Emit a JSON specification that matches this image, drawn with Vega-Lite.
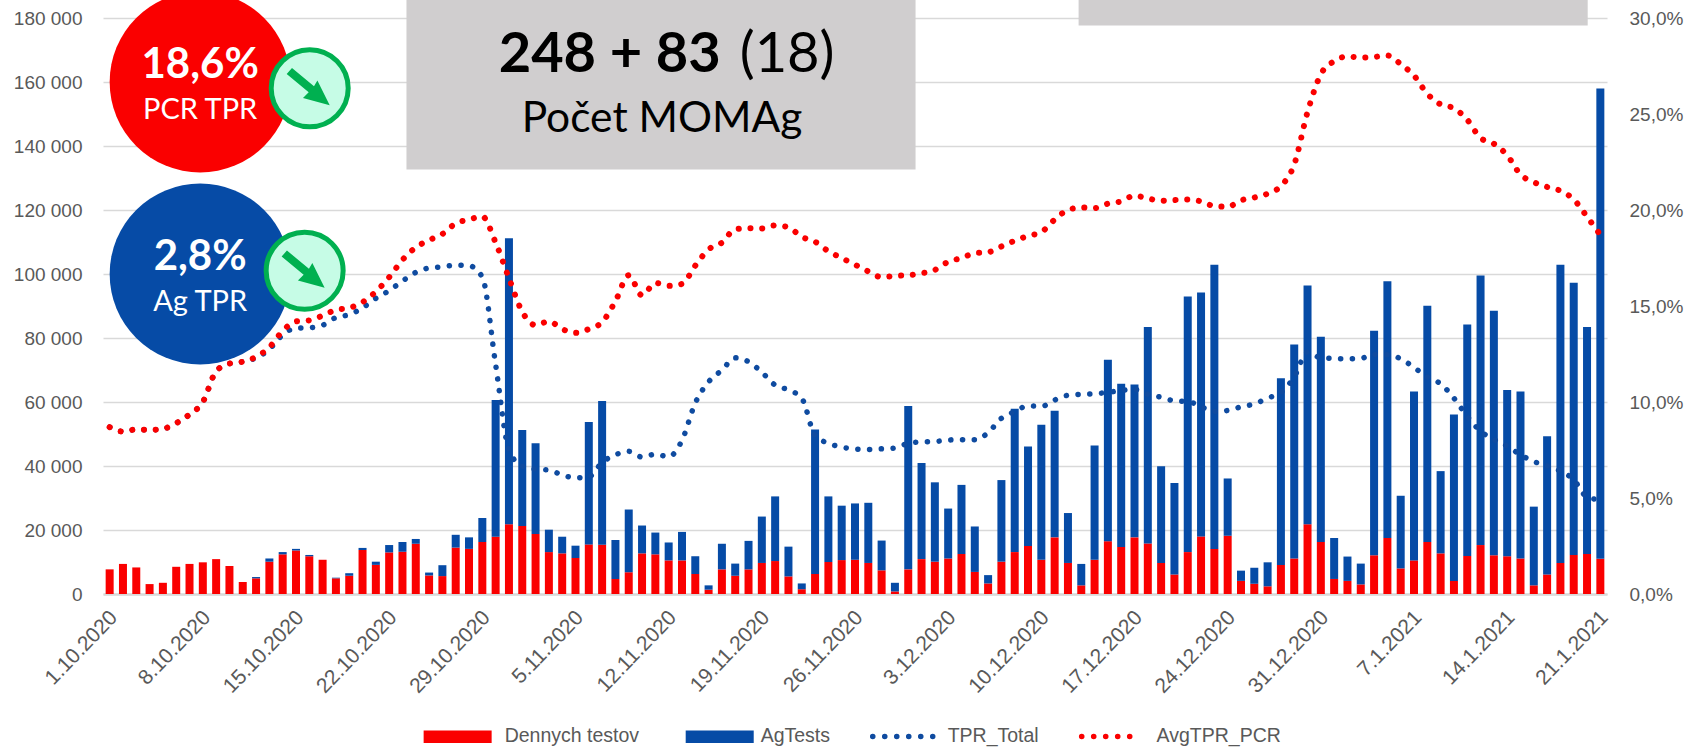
{
"$schema":"https://vega.github.io/schema/vega-lite/v6.json",
"width":1504,"height":576,
"autosize":{"type":"none"},
"padding":{"left":103,"top":18,"right":81,"bottom":155},
"background":"#ffffff",
"config":{"view":{"stroke":null},"font":"Liberation Sans"},
"data":{"values":[
{"date":"2020-10-01","Dennych testov":7700,"AgTests":0,"TPR_Total":8.69,"AvgTPR_PCR":8.69},
{"date":"2020-10-02","Dennych testov":9400,"AgTests":0,"TPR_Total":8.46,"AvgTPR_PCR":8.46},
{"date":"2020-10-03","Dennych testov":8300,"AgTests":0,"TPR_Total":8.57,"AvgTPR_PCR":8.57},
{"date":"2020-10-04","Dennych testov":3100,"AgTests":0,"TPR_Total":8.55,"AvgTPR_PCR":8.55},
{"date":"2020-10-05","Dennych testov":3500,"AgTests":0,"TPR_Total":8.6,"AvgTPR_PCR":8.6},
{"date":"2020-10-06","Dennych testov":8500,"AgTests":0,"TPR_Total":8.9,"AvgTPR_PCR":8.9},
{"date":"2020-10-07","Dennych testov":9400,"AgTests":0,"TPR_Total":9.35,"AvgTPR_PCR":9.35},
{"date":"2020-10-08","Dennych testov":9900,"AgTests":0,"TPR_Total":10.0,"AvgTPR_PCR":10.0},
{"date":"2020-10-09","Dennych testov":10900,"AgTests":0,"TPR_Total":11.6,"AvgTPR_PCR":11.6},
{"date":"2020-10-10","Dennych testov":8750,"AgTests":0,"TPR_Total":12.0,"AvgTPR_PCR":12.0},
{"date":"2020-10-11","Dennych testov":3750,"AgTests":0,"TPR_Total":12.1,"AvgTPR_PCR":12.1},
{"date":"2020-10-12","Dennych testov":4900,"AgTests":400,"TPR_Total":12.3,"AvgTPR_PCR":12.35},
{"date":"2020-10-13","Dennych testov":10100,"AgTests":1000,"TPR_Total":12.75,"AvgTPR_PCR":12.85},
{"date":"2020-10-14","Dennych testov":12400,"AgTests":700,"TPR_Total":13.5,"AvgTPR_PCR":13.7},
{"date":"2020-10-15","Dennych testov":13600,"AgTests":500,"TPR_Total":13.85,"AvgTPR_PCR":14.2},
{"date":"2020-10-16","Dennych testov":11800,"AgTests":400,"TPR_Total":13.87,"AvgTPR_PCR":14.25},
{"date":"2020-10-17","Dennych testov":10700,"AgTests":0,"TPR_Total":14.0,"AvgTPR_PCR":14.5},
{"date":"2020-10-18","Dennych testov":4900,"AgTests":200,"TPR_Total":14.4,"AvgTPR_PCR":14.8},
{"date":"2020-10-19","Dennych testov":5700,"AgTests":800,"TPR_Total":14.55,"AvgTPR_PCR":14.9},
{"date":"2020-10-20","Dennych testov":13750,"AgTests":650,"TPR_Total":14.9,"AvgTPR_PCR":15.2},
{"date":"2020-10-21","Dennych testov":9100,"AgTests":1000,"TPR_Total":15.4,"AvgTPR_PCR":15.75},
{"date":"2020-10-22","Dennych testov":13000,"AgTests":2300,"TPR_Total":15.8,"AvgTPR_PCR":16.5},
{"date":"2020-10-23","Dennych testov":13200,"AgTests":3050,"TPR_Total":16.3,"AvgTPR_PCR":17.4},
{"date":"2020-10-24","Dennych testov":15700,"AgTests":1500,"TPR_Total":16.75,"AvgTPR_PCR":18.05},
{"date":"2020-10-25","Dennych testov":5800,"AgTests":900,"TPR_Total":16.98,"AvgTPR_PCR":18.43},
{"date":"2020-10-26","Dennych testov":5600,"AgTests":3400,"TPR_Total":17.04,"AvgTPR_PCR":18.75},
{"date":"2020-10-27","Dennych testov":14500,"AgTests":4000,"TPR_Total":17.13,"AvgTPR_PCR":19.3},
{"date":"2020-10-28","Dennych testov":14100,"AgTests":3600,"TPR_Total":17.1,"AvgTPR_PCR":19.5},
{"date":"2020-10-29","Dennych testov":16250,"AgTests":7500,"TPR_Total":16.5,"AvgTPR_PCR":19.66},
{"date":"2020-10-30","Dennych testov":17900,"AgTests":42700,"TPR_Total":11.95,"AvgTPR_PCR":18.3},
{"date":"2020-10-31","Dennych testov":21800,"AgTests":89400,"TPR_Total":7.5,"AvgTPR_PCR":16.45},
{"date":"2020-11-01","Dennych testov":21250,"AgTests":30000,"TPR_Total":6.65,"AvgTPR_PCR":14.7},
{"date":"2020-11-02","Dennych testov":18750,"AgTests":28350,"TPR_Total":6.5,"AvgTPR_PCR":14.0},
{"date":"2020-11-03","Dennych testov":13100,"AgTests":7000,"TPR_Total":6.45,"AvgTPR_PCR":14.2},
{"date":"2020-11-04","Dennych testov":12700,"AgTests":5200,"TPR_Total":6.2,"AvgTPR_PCR":13.8},
{"date":"2020-11-05","Dennych testov":11250,"AgTests":3850,"TPR_Total":6.05,"AvgTPR_PCR":13.6},
{"date":"2020-11-06","Dennych testov":15500,"AgTests":38250,"TPR_Total":6.1,"AvgTPR_PCR":13.8},
{"date":"2020-11-07","Dennych testov":15400,"AgTests":44900,"TPR_Total":6.85,"AvgTPR_PCR":14.16},
{"date":"2020-11-08","Dennych testov":4700,"AgTests":12200,"TPR_Total":7.25,"AvgTPR_PCR":15.25},
{"date":"2020-11-09","Dennych testov":6800,"AgTests":19600,"TPR_Total":7.43,"AvgTPR_PCR":16.6},
{"date":"2020-11-10","Dennych testov":12700,"AgTests":8700,"TPR_Total":7.13,"AvgTPR_PCR":15.55},
{"date":"2020-11-11","Dennych testov":12400,"AgTests":6800,"TPR_Total":7.28,"AvgTPR_PCR":16.2},
{"date":"2020-11-12","Dennych testov":10500,"AgTests":5600,"TPR_Total":7.15,"AvgTPR_PCR":16.05},
{"date":"2020-11-13","Dennych testov":10500,"AgTests":8900,"TPR_Total":8.0,"AvgTPR_PCR":16.15},
{"date":"2020-11-14","Dennych testov":6250,"AgTests":5550,"TPR_Total":9.95,"AvgTPR_PCR":17.1},
{"date":"2020-11-15","Dennych testov":1350,"AgTests":1350,"TPR_Total":11.05,"AvgTPR_PCR":17.95},
{"date":"2020-11-16","Dennych testov":7700,"AgTests":8000,"TPR_Total":11.66,"AvgTPR_PCR":18.3},
{"date":"2020-11-17","Dennych testov":5700,"AgTests":3800,"TPR_Total":12.3,"AvgTPR_PCR":19.0},
{"date":"2020-11-18","Dennych testov":7700,"AgTests":8900,"TPR_Total":12.1,"AvgTPR_PCR":19.05},
{"date":"2020-11-19","Dennych testov":9700,"AgTests":14500,"TPR_Total":11.55,"AvgTPR_PCR":19.04},
{"date":"2020-11-20","Dennych testov":10300,"AgTests":20200,"TPR_Total":10.88,"AvgTPR_PCR":19.2},
{"date":"2020-11-21","Dennych testov":5500,"AgTests":9300,"TPR_Total":10.63,"AvgTPR_PCR":19.1},
{"date":"2020-11-22","Dennych testov":1500,"AgTests":1800,"TPR_Total":10.2,"AvgTPR_PCR":18.6},
{"date":"2020-11-23","Dennych testov":6250,"AgTests":45150,"TPR_Total":8.25,"AvgTPR_PCR":18.35},
{"date":"2020-11-24","Dennych testov":10000,"AgTests":20500,"TPR_Total":7.85,"AvgTPR_PCR":17.85},
{"date":"2020-11-25","Dennych testov":10600,"AgTests":17000,"TPR_Total":7.65,"AvgTPR_PCR":17.5},
{"date":"2020-11-26","Dennych testov":10700,"AgTests":17600,"TPR_Total":7.55,"AvgTPR_PCR":17.15},
{"date":"2020-11-27","Dennych testov":9700,"AgTests":18800,"TPR_Total":7.53,"AvgTPR_PCR":16.8},
{"date":"2020-11-28","Dennych testov":7400,"AgTests":9300,"TPR_Total":7.56,"AvgTPR_PCR":16.5},
{"date":"2020-11-29","Dennych testov":800,"AgTests":2700,"TPR_Total":7.6,"AvgTPR_PCR":16.57},
{"date":"2020-11-30","Dennych testov":7700,"AgTests":51050,"TPR_Total":7.85,"AvgTPR_PCR":16.6},
{"date":"2020-12-01","Dennych testov":10900,"AgTests":30000,"TPR_Total":7.92,"AvgTPR_PCR":16.7},
{"date":"2020-12-02","Dennych testov":10100,"AgTests":24800,"TPR_Total":7.94,"AvgTPR_PCR":16.88},
{"date":"2020-12-03","Dennych testov":11100,"AgTests":15600,"TPR_Total":8.02,"AvgTPR_PCR":17.3},
{"date":"2020-12-04","Dennych testov":12500,"AgTests":21600,"TPR_Total":8.04,"AvgTPR_PCR":17.5},
{"date":"2020-12-05","Dennych testov":6900,"AgTests":14200,"TPR_Total":8.03,"AvgTPR_PCR":17.75},
{"date":"2020-12-06","Dennych testov":3300,"AgTests":2600,"TPR_Total":8.4,"AvgTPR_PCR":17.8},
{"date":"2020-12-07","Dennych testov":10100,"AgTests":25500,"TPR_Total":9.15,"AvgTPR_PCR":18.1},
{"date":"2020-12-08","Dennych testov":13100,"AgTests":44800,"TPR_Total":9.5,"AvgTPR_PCR":18.4},
{"date":"2020-12-09","Dennych testov":15000,"AgTests":31100,"TPR_Total":9.8,"AvgTPR_PCR":18.65},
{"date":"2020-12-10","Dennych testov":10700,"AgTests":42200,"TPR_Total":9.77,"AvgTPR_PCR":18.85},
{"date":"2020-12-11","Dennych testov":17700,"AgTests":39600,"TPR_Total":10.1,"AvgTPR_PCR":19.5},
{"date":"2020-12-12","Dennych testov":9700,"AgTests":15600,"TPR_Total":10.35,"AvgTPR_PCR":20.0},
{"date":"2020-12-13","Dennych testov":2700,"AgTests":6700,"TPR_Total":10.4,"AvgTPR_PCR":20.13},
{"date":"2020-12-14","Dennych testov":10700,"AgTests":35700,"TPR_Total":10.43,"AvgTPR_PCR":20.1},
{"date":"2020-12-15","Dennych testov":16500,"AgTests":56700,"TPR_Total":10.5,"AvgTPR_PCR":20.33},
{"date":"2020-12-16","Dennych testov":14700,"AgTests":51000,"TPR_Total":10.6,"AvgTPR_PCR":20.45},
{"date":"2020-12-17","Dennych testov":17700,"AgTests":47800,"TPR_Total":10.65,"AvgTPR_PCR":20.75},
{"date":"2020-12-18","Dennych testov":15800,"AgTests":67600,"TPR_Total":10.4,"AvgTPR_PCR":20.6},
{"date":"2020-12-19","Dennych testov":9700,"AgTests":30200,"TPR_Total":10.25,"AvgTPR_PCR":20.48},
{"date":"2020-12-20","Dennych testov":6100,"AgTests":28600,"TPR_Total":10.06,"AvgTPR_PCR":20.52},
{"date":"2020-12-21","Dennych testov":13100,"AgTests":79900,"TPR_Total":10.03,"AvgTPR_PCR":20.55},
{"date":"2020-12-22","Dennych testov":18000,"AgTests":76200,"TPR_Total":9.75,"AvgTPR_PCR":20.45},
{"date":"2020-12-23","Dennych testov":14100,"AgTests":88800,"TPR_Total":9.5,"AvgTPR_PCR":20.2},
{"date":"2020-12-24","Dennych testov":18200,"AgTests":17900,"TPR_Total":9.56,"AvgTPR_PCR":20.17},
{"date":"2020-12-25","Dennych testov":4100,"AgTests":3200,"TPR_Total":9.75,"AvgTPR_PCR":20.5},
{"date":"2020-12-26","Dennych testov":3200,"AgTests":5000,"TPR_Total":9.9,"AvgTPR_PCR":20.65},
{"date":"2020-12-27","Dennych testov":2400,"AgTests":7500,"TPR_Total":10.2,"AvgTPR_PCR":20.85},
{"date":"2020-12-28","Dennych testov":9100,"AgTests":58300,"TPR_Total":10.5,"AvgTPR_PCR":21.25},
{"date":"2020-12-29","Dennych testov":11100,"AgTests":66900,"TPR_Total":11.3,"AvgTPR_PCR":22.37},
{"date":"2020-12-30","Dennych testov":21800,"AgTests":74600,"TPR_Total":12.6,"AvgTPR_PCR":25.1},
{"date":"2020-12-31","Dennych testov":16250,"AgTests":64150,"TPR_Total":12.3,"AvgTPR_PCR":27.07},
{"date":"2021-01-01","Dennych testov":4700,"AgTests":12800,"TPR_Total":12.27,"AvgTPR_PCR":27.75},
{"date":"2021-01-02","Dennych testov":4100,"AgTests":7600,"TPR_Total":12.25,"AvgTPR_PCR":28.0},
{"date":"2021-01-03","Dennych testov":3000,"AgTests":6500,"TPR_Total":12.27,"AvgTPR_PCR":27.94},
{"date":"2021-01-04","Dennych testov":12100,"AgTests":70200,"TPR_Total":12.48,"AvgTPR_PCR":27.97},
{"date":"2021-01-05","Dennych testov":17500,"AgTests":80200,"TPR_Total":12.47,"AvgTPR_PCR":28.05},
{"date":"2021-01-06","Dennych testov":8000,"AgTests":22700,"TPR_Total":12.25,"AvgTPR_PCR":27.6},
{"date":"2021-01-07","Dennych testov":10500,"AgTests":52800,"TPR_Total":11.8,"AvgTPR_PCR":27.0},
{"date":"2021-01-08","Dennych testov":16250,"AgTests":73850,"TPR_Total":11.3,"AvgTPR_PCR":26.05},
{"date":"2021-01-09","Dennych testov":12700,"AgTests":25700,"TPR_Total":10.95,"AvgTPR_PCR":25.5},
{"date":"2021-01-10","Dennych testov":4100,"AgTests":52000,"TPR_Total":10.2,"AvgTPR_PCR":25.3},
{"date":"2021-01-11","Dennych testov":11900,"AgTests":72300,"TPR_Total":9.25,"AvgTPR_PCR":24.7},
{"date":"2021-01-12","Dennych testov":15300,"AgTests":84200,"TPR_Total":8.48,"AvgTPR_PCR":23.75},
{"date":"2021-01-13","Dennych testov":12100,"AgTests":76400,"TPR_Total":8.05,"AvgTPR_PCR":23.45},
{"date":"2021-01-14","Dennych testov":11800,"AgTests":51950,"TPR_Total":7.7,"AvgTPR_PCR":22.85},
{"date":"2021-01-15","Dennych testov":11100,"AgTests":52200,"TPR_Total":7.25,"AvgTPR_PCR":21.85},
{"date":"2021-01-16","Dennych testov":2700,"AgTests":24600,"TPR_Total":6.9,"AvgTPR_PCR":21.45},
{"date":"2021-01-17","Dennych testov":6100,"AgTests":43200,"TPR_Total":6.68,"AvgTPR_PCR":21.2},
{"date":"2021-01-18","Dennych testov":9700,"AgTests":93200,"TPR_Total":6.4,"AvgTPR_PCR":21.0},
{"date":"2021-01-19","Dennych testov":12200,"AgTests":85100,"TPR_Total":5.95,"AvgTPR_PCR":20.55},
{"date":"2021-01-20","Dennych testov":12500,"AgTests":70900,"TPR_Total":5.05,"AvgTPR_PCR":19.65},
{"date":"2021-01-21","Dennych testov":11000,"AgTests":147000,"TPR_Total":4.9,"AvgTPR_PCR":18.7}
]},
"encoding":{"x":{"field":"date","type":"temporal","title":null,
  "scale":{"type":"utc","nice":false,"padding":0,"domain":[1601467200000,1611230400000]},
  "axis":{"values":[1601510400000,1602115200000,1602720000000,1603324800000,1603929600000,1604534400000,1605139200000,1605744000000,1606348800000,1606953600000,1607558400000,1608163200000,1608768000000,1609372800000,1609977600000,1610582400000,1611187200000],
  "format":"%-d.%-m.%Y","labelAngle":-46,"labelFontSize":21,"labelColor":"#595959","labelFont":"Liberation Sans","ticks":false,"grid":false,"domain":true,"domainColor":"#d9d9d9","domainWidth":2.5,"labelPadding":20,"labelOffset":4,"labelOverlap":false,"labelBound":false,"labelFlush":false}}},
"layer":[
 {"encoding":{"y":{"field":"value","type":"quantitative","title":null,
   "scale":{"domain":[0,180000],"nice":false},
   "axis":{"orient":"left","values":[0,20000,40000,60000,80000,100000,120000,140000,160000,180000],"labelExpr":"replace(format(datum.value,','),',',' ')","labelFontSize":19,"labelColor":"#595959","labelFont":"Liberation Sans","ticks":false,"domain":false,"grid":true,"gridColor":"#d9d9d9","gridWidth":1.6,"labelPadding":21}}},
  "layer":[
  {"transform":[{"fold":["Dennych testov","AgTests"]}],
   "mark":{"type":"bar","size":8},
   "encoding":{"color":{"field":"key","type":"nominal","legend":null,"scale":{"domain":["Dennych testov","AgTests"],"range":["#fa0000","#064ba6"]}}}},
  {"data":{"values":[
    {"date":"2020-10-23T07:12:00Z","date2":"2020-11-30T13:12:00Z","value":132660,"value2":186000},
    {"date":"2020-12-12T19:12:00Z","date2":"2021-01-20T01:12:00Z","value":177660,"value2":186000}]},
   "mark":{"type":"rect","color":"#d0cecf"},
   "encoding":{"x2":{"field":"date2"},"y2":{"field":"value2"}}},
  {"data":{"values":[{"date":"2020-10-07T19:12:00Z","value":160000}]},
   "mark":{"type":"point","shape":"circle","filled":true,"size":32761,"color":"#fa0000","opacity":1}},
  {"data":{"values":[{"date":"2020-10-07T19:12:00Z","value":100000}]},
   "mark":{"type":"point","shape":"circle","filled":true,"size":32761,"color":"#064ba6","opacity":1}},
  {"data":{"values":[{"date":"2020-10-16T00:43:00Z","value":158060},{"date":"2020-10-15T15:36:00Z","value":101000}]},
   "mark":{"type":"point","shape":"circle","filled":true,"size":5929,"fill":"#c6fce6","stroke":"#00b050","strokeWidth":5,"opacity":1}},
  {"data":{"values":[{"date":"2020-10-16T00:43:00Z","value":158060},{"date":"2020-10-15T15:36:00Z","value":101000}]},
   "mark":{"type":"point","shape":"M-23 -14.3L-17.7 -20.3L4.3 -2L7.7 -7.7L20 17L-6.7 9.7L-1 4Z","filled":true,"size":4,"color":"#00b050","opacity":1}},
  {"data":{"values":[{"date":"2020-11-07T13:41:00Z","value":163000,"t":"248 + 83"}]},
   "mark":{"type":"text","font":"Lato","fontWeight":"bold","fontSize":56,"color":"#000000","align":"center","baseline":"alphabetic"},
   "encoding":{"text":{"field":"t"}}},
  {"data":{"values":[{"date":"2020-11-20T21:36:00Z","value":163000,"t":"(18)"}]},
   "mark":{"type":"text","font":"Lato","fontSize":56,"color":"#000000","align":"center","baseline":"alphabetic"},
   "encoding":{"text":{"field":"t"}}},
  {"data":{"values":[{"date":"2020-11-11T12:00:00Z","value":144300,"t":"Počet MOMAg"}]},
   "mark":{"type":"text","font":"Lato","fontSize":42.5,"color":"#000000","align":"center","baseline":"alphabetic"},
   "encoding":{"text":{"field":"t"}}},
  {"data":{"values":[{"date":"2020-10-07T19:12:00Z","value":161300,"t":"18,6%"},{"date":"2020-10-07T19:12:00Z","value":101300,"t":"2,8%"}]},
   "mark":{"type":"text","font":"Lato","fontWeight":"bold","fontSize":42,"color":"#ffffff","align":"center","baseline":"alphabetic"},
   "encoding":{"text":{"field":"t"}}},
  {"data":{"values":[{"date":"2020-10-07T19:12:00Z","value":148500,"t":"PCR TPR"},{"date":"2020-10-07T19:12:00Z","value":88400,"t":"Ag TPR"}]},
   "mark":{"type":"text","font":"Lato","fontSize":29,"color":"#ffffff","align":"center","baseline":"alphabetic"},
   "encoding":{"text":{"field":"t"}}},
  {"data":{"values":[
    {"date":"2020-10-24T14:10:00Z","date2":"2020-10-29T16:48:00Z","value":-42660,"value2":-46600,"s":"Dennych testov"},
    {"date":"2020-11-13T06:43:00Z","date2":"2020-11-18T09:22:00Z","value":-42660,"value2":-46600,"s":"AgTests"}]},
   "mark":{"type":"rect"},
   "encoding":{"x2":{"field":"date2"},"y2":{"field":"value2"},"color":{"field":"s","type":"nominal","legend":null}}},
  {"data":{"values":[
    {"date":"2020-10-30T16:19:00Z","value":-44500,"t":"Dennych testov"},
    {"date":"2020-11-18T21:50:00Z","value":-44500,"t":"AgTests"},
    {"date":"2020-12-02T23:02:00Z","value":-44500,"t":"TPR_Total"},
    {"date":"2020-12-18T15:50:00Z","value":-44500,"t":"AvgTPR_PCR"}]},
   "mark":{"type":"text","font":"Liberation Sans","fontSize":19.5,"color":"#595959","align":"left","baseline":"middle"},
   "encoding":{"text":{"field":"t"}}},
  {"data":{"values":[{"date":"2020-11-27T07:55:00Z","date2":"2020-12-01T20:10:00Z","value":-44500}]},
   "mark":{"type":"rule","color":"#0f4ba0","strokeWidth":5.5,"strokeCap":"round","strokeDash":[0.1,11.9]},
   "encoding":{"x2":{"field":"date2"}}},
  {"data":{"values":[{"date":"2020-12-13T00:43:00Z","date2":"2020-12-17T11:02:00Z","value":-44500}]},
   "mark":{"type":"rule","color":"#fa0000","strokeWidth":5.5,"strokeCap":"round","strokeDash":[0.1,11.9]},
   "encoding":{"x2":{"field":"date2"}}}
  ]},
 {"encoding":{"y":{"type":"quantitative","title":null,
   "scale":{"domain":[0,30],"nice":false},
   "axis":{"orient":"right","values":[0,5,10,15,20,25,30],"labelExpr":"replace(format(datum.value,'.1f'),'.',',')+'%'","labelFontSize":19,"labelColor":"#595959","labelFont":"Liberation Sans","ticks":false,"domain":false,"grid":false,"labelPadding":22}}},
  "layer":[
  {"mark":{"type":"line","interpolate":"monotone","color":"#0f4ba0","strokeWidth":5.5,"strokeCap":"round","strokeDash":[0.1,11.65]},
   "encoding":{"y":{"field":"TPR_Total","type":"quantitative"}}},
  {"mark":{"type":"line","interpolate":"monotone","color":"#fa0000","strokeWidth":6,"strokeCap":"round","strokeDash":[0.1,11.65]},
   "encoding":{"y":{"field":"AvgTPR_PCR","type":"quantitative"}}}
  ]}
],
"resolve":{"scale":{"y":"independent"}}
}
